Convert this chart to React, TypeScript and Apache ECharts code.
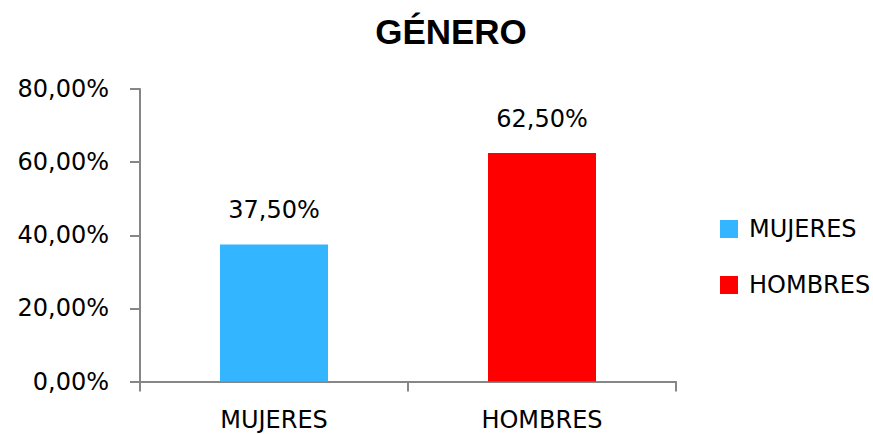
import React, { useEffect, useRef } from "react";
import * as echarts from "echarts";

const categories = ["MUJERES", "HOMBRES"];
const seriesNames = ["MUJERES", "HOMBRES"];
const mujeresValues = [37.5, null];
const hombresValues = [null, 62.5];
const yTicks = [0, 20, 40, 60, 80];

const fmt = (v: number) => v.toFixed(2).replace(".", ",") + "%";

export default function App() {
  const ref = useRef<HTMLDivElement>(null);
  useEffect(() => {
    if (!ref.current) return;
    const chart = echarts.init(ref.current, undefined, { renderer: "svg" });
    const font = "DejaVu Sans";
    const axisColor = "#868686";
    chart.setOption({
      animation: false,
      title: {
        text: "GÉNERO",
        left: 446,
        textAlign: "center",
        top: 9,
        textStyle: { fontFamily: "Liberation Sans", fontWeight: "bold", fontSize: 35, color: "#000" },
      },
      legend: {
        orient: "vertical",
        left: 720,
        top: 217,
        padding: 0,
        itemWidth: 18,
        itemHeight: 18,
        itemGap: 32,
        icon: "rect",
        textStyle: { fontFamily: font, fontSize: 24, color: "#000", padding: [0, 0, 0, 6] },
        data: seriesNames,
      },
      grid: { left: 140, right: 197, top: 89, bottom: 52.5, containLabel: false },
      xAxis: {
        type: "category",
        data: categories,
        axisLine: { lineStyle: { color: axisColor, width: 2 } },
        axisTick: { show: true, length: 10, alignWithLabel: false, lineStyle: { color: axisColor, width: 2 } },
        axisLabel: { fontFamily: font, fontSize: 24, color: "#000", margin: 26 },
      },
      yAxis: {
        type: "value",
        min: yTicks[0],
        max: yTicks[yTicks.length - 1],
        interval: 20,
        splitLine: { show: false },
        axisLine: { show: true, lineStyle: { color: axisColor, width: 2 } },
        axisTick: { show: true, length: 10, lineStyle: { color: axisColor, width: 2 } },
        axisLabel: { fontFamily: font, fontSize: 24, color: "#000", margin: 31, formatter: (v: number) => fmt(v) },
      },
      series: [
        {
          name: seriesNames[0],
          type: "bar",
          stack: "g",
          barWidth: 108,
          data: mujeresValues.map((v) => (v == null ? "-" : v)),
          itemStyle: { color: "#33B5FF" },
          label: {
            show: true,
            position: "top",
            distance: 22,
            fontFamily: font,
            fontSize: 24,
            color: "#000",
            formatter: (p: any) => fmt(p.value),
          },
        },
        {
          name: seriesNames[1],
          type: "bar",
          stack: "g",
          barWidth: 108,
          data: hombresValues.map((v) => (v == null ? "-" : v)),
          itemStyle: { color: "#FF0000" },
          label: {
            show: true,
            position: "top",
            distance: 22,
            fontFamily: font,
            fontSize: 24,
            color: "#000",
            formatter: (p: any) => fmt(p.value),
          },
        },
      ],
    });
    return () => chart.dispose();
  }, []);
  return <div ref={ref} style={{ width: 873, height: 434, position: "absolute", left: 0, top: 0 }} />;
}
